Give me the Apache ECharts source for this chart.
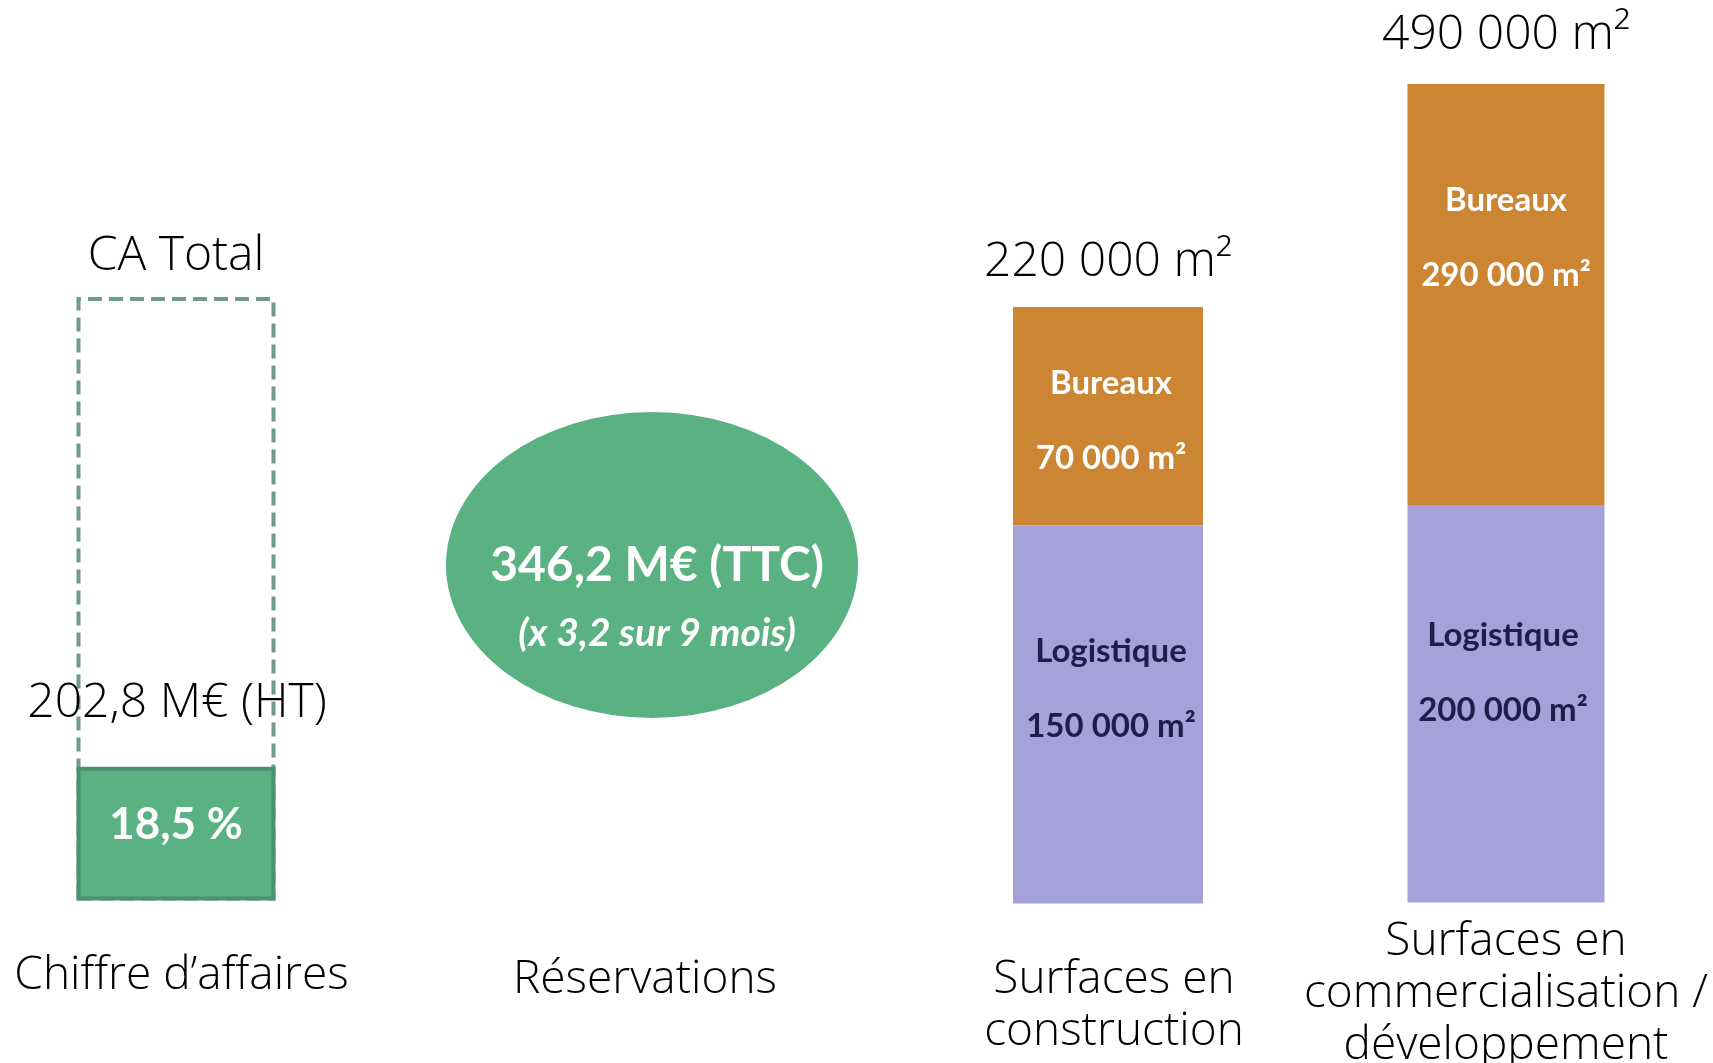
<!DOCTYPE html>
<html>
<head>
<meta charset="utf-8">
<title>Chiffres clés</title>
<script src="https://cdn.jsdelivr.net/npm/echarts@6/dist/echarts.min.js"></script>
<style>
    html, body { margin: 0; padding: 0; background: #fff; }
    #main { width: 1713px; height: 1063px; }
</style>
</head>
<body>
<div id="main"></div>
<script>
// libellés sous chaque colonne
var columns = ['Chiffre d’affaires', 'Réservations', 'Surfaces en\nconstruction', 'Surfaces en\ncommercialisation /\ndéveloppement'];
// chiffre d'affaires
var caTotal = [100];        // CA total = 100 %
var caShare = [18.5];       // %
var caRevenue = [202.8];    // M€ HT
// réservations
var reservations = [346.2]; // M€ TTC
var resaFactor = [3.2];
var resaMonths = [9];
// surfaces en m² : [construction, commercialisation / développement]
var logistique = [150000, 200000];
var bureaux = [70000, 290000];

function fr(n) {
    return String(n).replace('.', ',').replace(/\B(?=(\d{3})+(?!\d))/g, ' ');
}

var totals = logistique.map(function (v, i) { return v + bureaux[i]; });

var myChart = echarts.init(document.getElementById('main'));

var bigText = { fontFamily: 'Open Sans', fontSize: 48, fontWeight: 300, color: '#000', lineHeight: 58 };
var catText = { fontFamily: 'Open Sans', fontSize: 46, fontWeight: 300, color: '#000', lineHeight: 52 };
var hidden = { axisLine: { show: false }, axisTick: { show: false }, splitLine: { show: false } };

// padding décale légèrement le libellé horizontalement
function xBottom(i, margin, padding) {
    return Object.assign({
        type: 'category', gridIndex: i, position: 'bottom', data: [columns[i]],
        axisLabel: Object.assign({ margin: margin, padding: padding }, catText)
    }, hidden);
}
function xTop(i, label, margin) {
    return Object.assign({
        type: 'category', gridIndex: i, position: 'top', data: [label],
        axisLabel: Object.assign({ margin: margin }, bigText)
    }, hidden);
}
function yAxis(i, min, max) {
    return Object.assign({
        type: 'value', gridIndex: i, min: min, max: max, startValue: min,
        axisLabel: { show: false }
    }, hidden);
}

var surfaceSeries = [];
var barWidths = [190, 197];
var logiOffsets = [[3, -26], [-3, -31]];
var bureOffsets = [[3, 5], [0, -57]];
logistique.forEach(function (v, i) {
    surfaceSeries.push({
        name: 'Logistique', type: 'bar', xAxisIndex: i + 2, yAxisIndex: i + 2, stack: 's' + i,
        data: [v], barWidth: barWidths[i],
        itemStyle: { color: '#a4a2d9' },
        label: {
            show: true, position: 'inside', offset: logiOffsets[i],
            formatter: function (p) { return 'Logistique\n' + fr(p.value) + ' m²'; },
            fontFamily: 'Lato', fontWeight: 'bold', fontSize: 33, lineHeight: 75, color: '#1f1d4a'
        }
    });
    surfaceSeries.push({
        name: 'Bureaux', type: 'bar', xAxisIndex: i + 2, yAxisIndex: i + 2, stack: 's' + i,
        data: [bureaux[i]], barWidth: barWidths[i],
        itemStyle: { color: '#cc8532' },
        label: {
            show: true, position: 'inside', offset: bureOffsets[i],
            formatter: function (p) { return 'Bureaux\n' + fr(p.value) + ' m²'; },
            fontFamily: 'Lato', fontWeight: 'bold', fontSize: 33, lineHeight: 75, color: '#fff'
        }
    });
});

var option = {
    animation: false,
    grid: [
        { left: 26, top: 297, width: 300, height: 603.5, outerBoundsMode: 'none' },
        { left: 502, top: 227, width: 300, height: 676, outerBoundsMode: 'none' },
        { left: 958, top: 307, width: 300, height: 596.5, outerBoundsMode: 'none' },
        { left: 1356, top: 84, width: 300, height: 818.5, outerBoundsMode: 'none' }
    ],
    xAxis: [
        xBottom(0, 49, [0, 0, 0, 11]),
        xBottom(1, 51, [0, 14, 0, 0]),
        xBottom(2, 50, [0, 0, 0, 12]),
        xBottom(3, 13, [0, 0, 0, 0]),
        xTop(0, 'CA Total', 12),
        xTop(2, fr(totals[0]) + ' m²', 16),
        xTop(3, fr(totals[1]) + ' m²', 20)
    ],
    yAxis: [
        yAxis(0, -4.7, caTotal[0]),
        yAxis(1, 0, reservations[0] * 2),
        yAxis(2, 28900, totals[0]),
        yAxis(3, -73800, totals[1])
    ],
    series: [
        {
            name: 'CA Total', type: 'bar', xAxisIndex: 0, yAxisIndex: 0,
            data: caTotal, barWidth: 199, barGap: '-100%',
            itemStyle: { color: 'rgba(0,0,0,0)', borderColor: '#6f9c86', borderWidth: 4, borderType: [14, 7] },
            label: Object.assign({
                show: true, position: 'inside', offset: [1, 105],
                formatter: fr(caRevenue[0]) + ' M€ (HT)'
            }, bigText)
        },
        {
            name: 'CA', type: 'bar', xAxisIndex: 0, yAxisIndex: 0,
            data: caShare, barWidth: 199, barGap: '-100%',
            itemStyle: { color: '#5ab282', borderColor: '#4b9270', borderWidth: 4 },
            label: {
                show: true, position: 'inside', offset: [0, -9],
                formatter: function (p) { return fr(p.value) + ' %'; },
                fontFamily: 'Lato', fontWeight: 'bold', fontSize: 44, color: '#fff'
            }
        },
        {
            name: 'Réservations', type: 'scatter', xAxisIndex: 1, yAxisIndex: 1,
            data: reservations, symbol: 'circle', symbolSize: [412, 306],
            itemStyle: { color: '#5ab282', opacity: 1 },
            label: {
                show: true, position: 'inside', offset: [5, 38],
                formatter: function (p) {
                    return '{a|' + fr(p.value) + ' M€ (TTC)}\n{b|(x ' + fr(resaFactor[0]) + ' sur ' + resaMonths[0] + ' mois)}';
                },
                rich: {
                    a: { fontFamily: 'Lato', fontWeight: 'bold', fontSize: 48, lineHeight: 60, color: '#fff' },
                    b: { fontFamily: 'Lato', fontWeight: 'bold', fontStyle: 'italic', fontSize: 39, lineHeight: 74, color: '#fff' }
                }
            }
        }
    ].concat(surfaceSeries)
};

myChart.setOption(option);
</script>
</body>
</html>
